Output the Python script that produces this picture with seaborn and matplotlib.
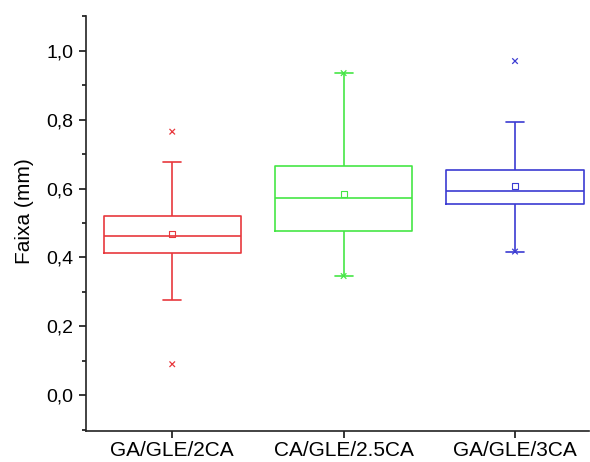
import numpy as np
import pandas as pd
import matplotlib
matplotlib.use("Agg")
import matplotlib.pyplot as plt
from matplotlib.ticker import FuncFormatter, MultipleLocator
import seaborn as sns

# ---- values ----
groups = ["GA/GLE/2CA", "CA/GLE/2.5CA", "GA/GLE/3CA"]
q1 = [0.414, 0.476, 0.556]
median = [0.461, 0.572, 0.592]
q3 = [0.520, 0.666, 0.654]
whisker_low = [0.276, 0.346, 0.417]
whisker_high = [0.678, 0.935, 0.794]
means = [0.469, 0.583, 0.607]
outliers = [[0.090, 0.765], [], [0.970]]
colors = ["#E8383D", "#45E645", "#3B3BD2"]

# long-form table whose quartiles/whiskers reproduce the read summary
rows = []
for g, a, m, b, lo, hi, outs in zip(groups, q1, median, q3, whisker_low, whisker_high, outliers):
    vals = [lo] + [a] * 3 + [m] * 3 + [b] * 3 + [hi] + list(outs)
    rows += [(g, v) for v in vals]
df = pd.DataFrame(rows, columns=["group", "value"])

mean_df = pd.DataFrame({"group": groups, "value": means})
ext_rows = []
for g, lo, hi, outs in zip(groups, whisker_low, whisker_high, outliers):
    allv = [lo, hi] + list(outs)
    ext_rows += [(g, min(allv)), (g, max(allv))]
ext_df = pd.DataFrame(ext_rows, columns=["group", "value"])

sns.set_theme(style="ticks")
plt.rcParams["font.family"] = ["Liberation Sans", "DejaVu Sans"]

fig = plt.figure(figsize=(5.9, 4.62), dpi=100)
ax = fig.add_axes([0.1458, 0.067, 0.852, 0.8985])

pal = dict(zip(groups, colors))
sns.boxplot(data=df, x="group", y="value", hue="group", palette=pal,
            fill=False, width=0.8, whis=1.5, showfliers=False,
            linewidth=1.2, legend=False, ax=ax, capwidths=0.105)

sns.scatterplot(data=mean_df, x="group", y="value", hue="group", palette=pal,
                marker="s", s=20, facecolors="none", linewidth=0.8,
                legend=False, ax=ax, zorder=5)
coll = ax.collections[-1]
coll.set_facecolor("none")
coll.set_edgecolor([pal[g] for g in mean_df["group"]])

sns.scatterplot(data=ext_df, x="group", y="value", hue="group", palette=pal,
                marker="x", s=16, linewidth=0.9, legend=False, ax=ax, zorder=5)

ax.set_xlim(-0.503, 2.43)
ax.set_ylim(-0.104, 1.101)
ax.yaxis.set_major_locator(MultipleLocator(0.2))
ax.yaxis.set_minor_locator(MultipleLocator(0.1))
ax.yaxis.set_major_formatter(FuncFormatter(lambda v, p: f"{v:.1f}".replace(".", ",")))

ax.set_xlabel("")
ax.set_ylabel("Faixa (mm)", fontsize=15, color="black")
ax.yaxis.set_label_coords(-0.104, 0.53)
ax.tick_params(axis="both", colors="black", direction="out", width=1.1, length=5)
ax.tick_params(axis="y", labelsize=14, pad=4)
ax.tick_params(axis="x", labelsize=15, pad=2)
ax.tick_params(axis="y", which="minor", length=3, width=1.1, colors="black")

for side in ["top", "right"]:
    ax.spines[side].set_visible(False)
for side in ["left", "bottom"]:
    ax.spines[side].set_linewidth(1.2)
    ax.spines[side].set_color("#222222")

fig.savefig("out.png", dpi=100)
